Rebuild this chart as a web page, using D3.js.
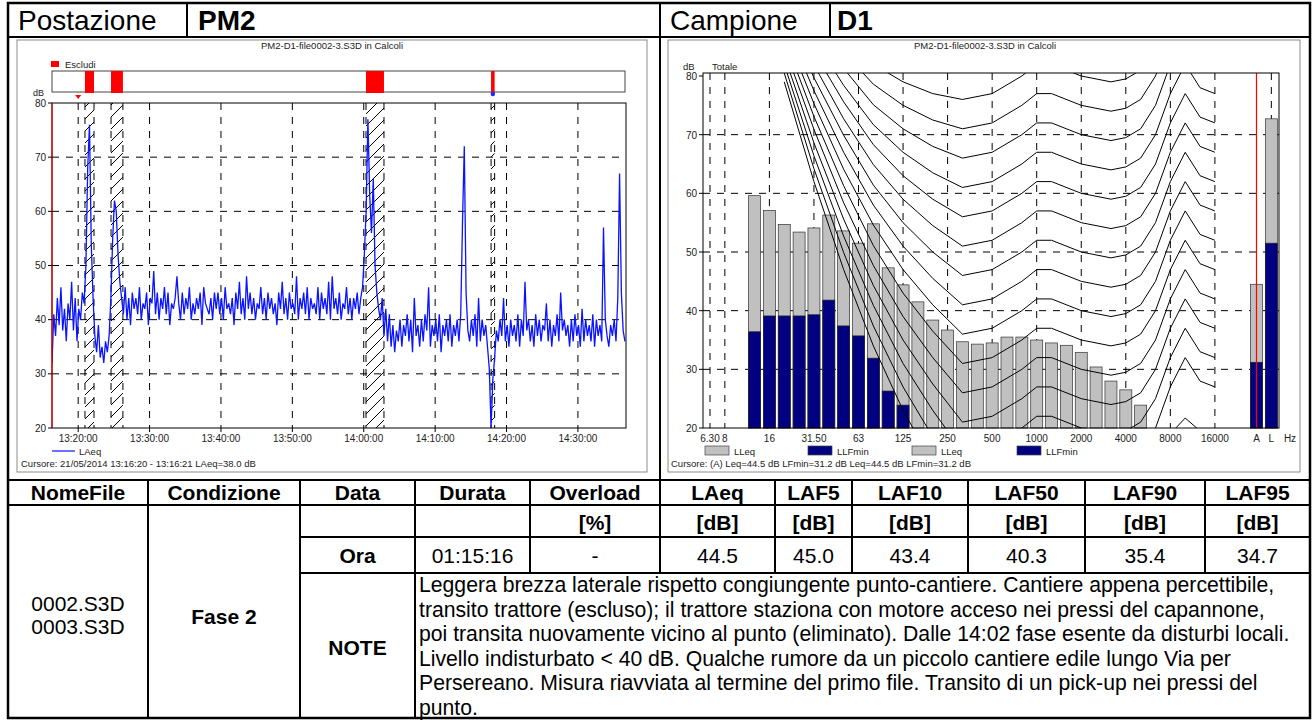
<!DOCTYPE html>
<html>
<head>
<meta charset="utf-8">
<script src="https://cdn.jsdelivr.net/npm/d3@7/dist/d3.min.js"></script>
<style>
  body { margin: 0; background: #fff; }
  text { font-family: "Liberation Sans", Arial, sans-serif; }
</style>
</head>
<body>
<div id="sheet"></div>
<script>
// ---- time history (LAeq, 15 s samples) ----
const timeStart = '13:16:20', timeEnd = '14:36:44', sampleSec = 15
const laeq = [
  32,41,37,44, 39,46,38,42, 36,43,40,47, 38,44,36,42, 40,45,43,50,
  68,76,54,44, 37,34,39,33, 35,32,36,34, 37,44,55,62, 60,52,47,44,
  41,46,40,44, 39,45,42,44, 41,46,40,43, 42,45,39,44, 43,49,41,45,
  40,44,42,46, 41,45,39,43, 42,44,48,43, 40,45,41,44, 42,46,40,43,
  41,44,42,45, 39,46,43,42, 41,44,40,45, 42,45,41,44, 40,46,42,43,
  41,44,39,45, 42,47,41,44, 40,48,42,45, 41,44,40,43, 42,46,41,44,
  40,45,42,44, 41,43,39,45, 42,47,41,44, 40,45,42,43, 41,48,40,44,
  42,45,41,46, 40,44,42,43, 41,46,40,45, 42,44,41,47, 40,48,42,44,
  41,45,40,43, 42,46,41,44, 40,44,42,45, 41,44,46,52, 60,77,63,56,
  66,50,45,42, 40,44,37,42, 36,41,35,39, 34,38,36,40, 35,39,37,41,
  36,40,34,44, 37,39,35,40, 36,41,38,46, 35,39,37,40, 36,41,34,39,
  37,40,36,41, 35,39,37,40, 36,41,58,72, 45,38,36,40, 37,41,35,44,
  36,40,37,39, 35,31,20,29, 33,38,36,40, 37,44,36,39, 35,40,37,39,
  36,41,35,40, 37,47,38,40, 36,39,35,41, 37,40,36,39, 38,43,36,40,
  35,39,37,41, 36,45,38,40, 37,39,35,40, 36,41,37,39, 35,42,36,40,
  37,39,36,41, 35,40,37,39, 36,57,40,37, 35,39,37,40, 36,44,67,45,
  38,36
]
const excluded = [['13:20:57', '13:22:13'], ['13:24:36', '13:26:16'], ['14:00:19', '14:02:50'], ['14:17:50', '14:18:20']]
const levelTicks = [20, 30, 40, 50, 60, 70, 80]

// ---- spectrum ----
const bands = ['6.3','8','10','12.5','16','20','25','31.5','40','50','63','80','100','125','160','200','250','315','400','500',
  '630','800','1000','1250','1600','2000','2500','3150','4000','5000','6300','8000','10000','12500','16000','20000']
const lleq = [null,null,null,59.6,57.1,54.7,53.4,54.1,56.3,53.6,51.5,54.8,47.3,44.4,41.5,38.4,36.7,34.7,34.3,34.5,
  35.5,35.5,35.0,34.5,34.1,32.9,30.4,28.0,26.5,23.9,null,null,null,null,null,null]
const llfmin = [null,null,null,36.4,39.1,39.1,39.1,39.3,41.8,37.4,35.7,31.9,26.3,23.9,null,null,null,null,null,null,
  null,null,null,null,null,null,null,null,null,null,null,null,null,null,null,null]
const totals = ['A', 'L']
const totalLleq = [44.5, 72.7]
const totalLlfmin = [31.2, 51.5]
const freqTicks = ['6.3','8','16','31.5','63','125','250','500','1000','2000','4000','8000','16000']
const freqTickText = ['6.30','8','16','31.50','63','125','250','500','1000','2000','4000','8000','16000']

// isophone curves
const contourFreqs = ['20','31.5','50','80','125','200','315','500','800','1000','1250','2000','3150','4000','5000','6300','8000','10000','12500','16000']
const contours = [
  [100,93,87,82,79,77,76,77,80,82,82,80,79,79.5,81,85,92,97,93,92],
  [98.5,90.8,84.1,78.6,75,72.5,71,72,75,77,77,75,74,74.5,76,80,87,92,88,87],
  [97,88.6,81.3,75.1,71,68,66,67,70,72,72,70,69,69.5,71,75,82,87,83,82],
  [95.5,86.4,78.4,71.7,67,63.5,61,62,65,67,67,65,64,64.5,66,70,77,82,78,77],
  [94,84.1,75.6,68.3,63,59,56,57,60,62,62,60,59,59.5,61,65,72,77,73,72],
  [92.5,81.9,72.7,64.9,59,54.5,51,52,55,57,57,55,54,54.5,56,60,67,72,68,67],
  [91,79.7,69.9,61.4,55,50,46,47,50,52,52,50,49,49.5,51,55,62,67,63,62],
  [89.5,77.5,67,58,51,45.5,41,42,45,47,47,45,44,44.5,46,50,57,62,58,57],
  [88,75.3,64.1,54.6,47,41,36,37,40,42,42,40,39,39.5,41,45,52,57,53,52],
  [86.5,73.1,61.3,51.1,43,36.5,31,32,35,37,37,35,34,34.5,36,40,47,52,48,47],
  [85,70.9,58.4,47.7,39,32,26,27,30,32,32,30,29,29.5,31,35,42,47,43,42],
  [83.5,68.6,55.6,44.3,35,27.5,21,22,25,27,27,25,24,24.5,26,30,37,42,38,37],
  [82,66.4,52.7,40.9,31,23,16,17,20,22,22,20,19,19.5,21,25,32,37,33,32],
  [80.5,64.2,49.9,37.4,27,18.5,11,12,15,17,17,15,14,14.5,16,20,27,32,28,27],
  [79,62,47,34,23,14,6,7,10,12,12,10,9,9.5,11,14,19,21.7,19.5,18]
]

// ---- sheet table ----
const headCells = ['Postazione', 'PM2', 'Campione', 'D1']
const colNames = ['NomeFile','Condizione','Data','Durata','Overload','LAeq','LAF5','LAF10','LAF50','LAF90','LAF95']
const colUnits = ['','','','','[%]','[dB]','[dB]','[dB]','[dB]','[dB]','[dB]']
const rowLabel = 'Ora'
const rowValues = ['01:15:16','-','44.5','45.0','43.4','40.3','35.4','34.7']
const fileNames = ['0002.S3D', '0003.S3D']
const condition = 'Fase 2'
const noteLines = [
  'Leggera brezza laterale rispetto congiungente punto-cantiere. Cantiere appena percettibile,',
  'transito trattore (escluso); il trattore staziona con motore acceso nei pressi del capannone,',
  'poi transita nuovamente vicino al punto (eliminato). Dalle 14:02 fase esente da disturbi locali.',
  'Livello indisturbato < 40 dB. Qualche rumore da un piccolo cantiere edile lungo Via per',
  'Persereano. Misura riavviata al termine del primo file. Transito di un pick-up nei pressi del',
  'punto.'
]

const svg = d3.select('#sheet').append('svg')
  .attr('width', 1315)
  .attr('height', 720)
svg.append('rect').attr('width', 1315).attr('height', 720).attr('fill', '#fff')
const defs = svg.append('defs')

function rule(g, x1, y1, x2, y2, w, color) {
  return g.append('line')
    .attr('x1', x1).attr('y1', y1).attr('x2', x2).attr('y2', y2)
    .attr('stroke', color || '#000')
    .attr('stroke-width', w || 2)
}
function label(g, x, y, txt, size, opts) {
  opts = opts || {}
  return g.append('text')
    .attr('x', x).attr('y', y)
    .attr('font-size', size)
    .attr('font-weight', opts.bold ? 'bold' : 'normal')
    .attr('text-anchor', opts.anchor || 'start')
    .attr('fill', opts.fill || '#000')
    .text(txt)
}

// ================= left chart: time history =================
const parseT = d3.timeParse('%H:%M:%S')
const t0 = parseT(timeStart)
const series = laeq.map((v, i) => ({t: d3.timeSecond.offset(t0, i * sampleSec), v}))
const lx = d3.scaleTime().domain([t0, parseT(timeEnd)]).range([52, 626])
const ly = d3.scaleLinear().domain([20, 80]).range([428, 103])

const left = svg.append('g').attr('id', 'left-chart')
left.append('rect').attr('x', 17).attr('y', 40).attr('width', 630).attr('height', 432)
  .attr('fill', '#fff').attr('stroke', '#8c8c8c')
label(left, 332, 49, 'PM2-D1-file0002-3.S3D in Calcoli', 9.5, {anchor: 'middle', fill: '#222'})

defs.append('clipPath').attr('id', 'lclip').append('rect')
  .attr('x', 52).attr('y', 103).attr('width', 574).attr('height', 325)
const hatch = defs.append('pattern').attr('id', 'hatch')
  .attr('patternUnits', 'userSpaceOnUse').attr('width', 12).attr('height', 12)
hatch.append('path').attr('d', 'M0,12 L12,0 M-3,3 L3,-3 M9,15 L15,9')
  .attr('stroke', '#000').attr('stroke-width', 1)

// exclusion strip
left.append('rect').attr('x', 51).attr('y', 61).attr('width', 8).attr('height', 6).attr('fill', '#f00')
label(left, 65, 68, 'Escludi', 9.5, {fill: '#222'})
left.append('rect').attr('x', 52).attr('y', 71).attr('width', 573).attr('height', 21)
  .attr('fill', '#fff').attr('stroke', '#444')
left.append('g').selectAll('rect')
  .data(excluded)
  .enter().append('rect')
  .attr('x', d => lx(parseT(d[0])))
  .attr('width', d => Math.max(3, lx(parseT(d[1])) - lx(parseT(d[0]))))
  .attr('y', 71).attr('height', 22)
  .attr('fill', '#f00')
left.append('path').attr('d', `M${lx(parseT('13:20:00')) - 3},95 h6 l-3,4 z`).attr('fill', '#f00')
left.append('circle').attr('cx', lx(parseT('14:18:05'))).attr('cy', 94).attr('r', 2.2).attr('fill', '#1030ff')

const tTicks = lx.ticks(d3.timeMinute.every(10))
const lgrid = left.append('g').attr('class', 'grid')
lgrid.selectAll('.vgrid')
  .data(tTicks)
  .enter().append('line')
  .attr('x1', d => lx(d)).attr('x2', d => lx(d))
  .attr('y1', 103).attr('y2', 428)
  .attr('stroke', '#000').attr('stroke-dasharray', '7,7')
lgrid.selectAll('.hgrid')
  .data(levelTicks.slice(1, -1))
  .enter().append('line')
  .attr('x1', 52).attr('x2', 626)
  .attr('y1', d => ly(d)).attr('y2', d => ly(d))
  .attr('stroke', '#000').attr('stroke-dasharray', '7,7')

const hatchG = left.append('g').attr('class', 'excluded')
hatchG.selectAll('rect')
  .data(excluded)
  .enter().append('rect')
  .attr('x', d => lx(parseT(d[0])))
  .attr('width', d => lx(parseT(d[1])) - lx(parseT(d[0])))
  .attr('y', 103).attr('height', 325)
  .attr('fill', 'url(#hatch)')
hatchG.selectAll('.edge')
  .data(excluded.flat())
  .enter().append('line')
  .attr('x1', d => lx(parseT(d))).attr('x2', d => lx(parseT(d)))
  .attr('y1', 103).attr('y2', 428)
  .attr('stroke', '#000').attr('stroke-dasharray', '7,7')

left.append('path')
  .datum(series)
  .attr('clip-path', 'url(#lclip)')
  .attr('fill', 'none')
  .attr('stroke', '#0a14ff')
  .attr('stroke-width', 1.3)
  .attr('d', d3.line().x(d => lx(d.t)).y(d => ly(d.v)))

left.append('rect').attr('x', 52).attr('y', 103).attr('width', 574).attr('height', 325)
  .attr('fill', 'none').attr('stroke', '#000')
rule(left, 52, 103, 52, 428, 1.2, '#e00')

const lyAxis = left.append('g').selectAll('g').data(levelTicks).enter().append('g')
lyAxis.append('line').attr('x1', 48).attr('x2', 52).attr('y1', d => ly(d)).attr('y2', d => ly(d)).attr('stroke', '#000')
lyAxis.append('text').attr('x', 46).attr('y', d => ly(d) + 3.5)
  .attr('text-anchor', 'end').attr('font-size', 10).attr('fill', '#222').text(d => d)
label(left, 33, 96, 'dB', 9, {fill: '#222'})

const fmt = d3.timeFormat('%H:%M:%S')
const lxAxis = left.append('g').selectAll('g').data(tTicks).enter().append('g')
lxAxis.append('line').attr('x1', d => lx(d)).attr('x2', d => lx(d)).attr('y1', 428).attr('y2', 432).attr('stroke', '#000')
lxAxis.append('text').attr('x', d => lx(d)).attr('y', 442)
  .attr('text-anchor', 'middle').attr('font-size', 10).attr('fill', '#222').text(d => fmt(d))

rule(left, 52, 451, 75, 451, 1.2, '#0a14ff')
label(left, 79, 455, 'LAeq', 9.5, {fill: '#222'})
label(left, 21, 467, 'Cursore: 21/05/2014 13:16:20 - 13:16:21  LAeq=38.0 dB', 9.5, {fill: '#222'})

// ================= right chart: spectrum =================
const fx = d3.scaleLinear().domain([-0.471, 38.316]).range([703, 1279])
const fy = d3.scaleLinear().domain([20, 80]).range([428, 76])
const totalIdx = [36.8, 37.8]
const barW = 12

const right = svg.append('g').attr('id', 'right-chart')
right.append('rect').attr('x', 668).attr('y', 40).attr('width', 632).attr('height', 432)
  .attr('fill', '#fff').attr('stroke', '#8c8c8c')
label(right, 985, 49, 'PM2-D1-file0002-3.S3D in Calcoli', 9.5, {anchor: 'middle', fill: '#222'})
label(right, 683, 70, 'dB', 9.5, {fill: '#222'})
label(right, 712, 70, 'Totale', 9.5, {fill: '#222'})

defs.append('clipPath').attr('id', 'rclip').append('rect')
  .attr('x', 703).attr('y', 73).attr('width', 576).attr('height', 355)

const rgrid = right.append('g').attr('class', 'grid')
rgrid.selectAll('.vgrid')
  .data(freqTicks.map(f => bands.indexOf(f)).concat([totalIdx[1]]))
  .enter().append('line')
  .attr('x1', d => fx(d)).attr('x2', d => fx(d))
  .attr('y1', 73).attr('y2', 428)
  .attr('stroke', '#000').attr('stroke-dasharray', '7,7')
rgrid.selectAll('.hgrid')
  .data(levelTicks.slice(1, -1))
  .enter().append('line')
  .attr('x1', 703).attr('x2', 1279)
  .attr('y1', d => fy(d)).attr('y2', d => fy(d))
  .attr('stroke', '#000').attr('stroke-dasharray', '7,7')

const bandRows = bands.map((b, i) => ({i, leq: lleq[i], min: llfmin[i]}))
  .concat(totals.map((t, k) => ({i: totalIdx[k], leq: totalLleq[k], min: totalLlfmin[k]})))
const bars = right.append('g').attr('class', 'bars')
bars.selectAll('.leq')
  .data(bandRows.filter(d => d.leq != null))
  .enter().append('rect')
  .attr('x', d => fx(d.i) - barW / 2).attr('width', barW)
  .attr('y', d => fy(d.leq)).attr('height', d => fy(20) - fy(d.leq))
  .attr('fill', '#c0c0c0').attr('stroke', '#333').attr('stroke-width', 0.7)
bars.selectAll('.min')
  .data(bandRows.filter(d => d.min != null))
  .enter().append('rect')
  .attr('x', d => fx(d.i) - barW / 2).attr('width', barW)
  .attr('y', d => fy(d.min)).attr('height', d => fy(20) - fy(d.min))
  .attr('fill', '#000080').attr('stroke', '#222').attr('stroke-width', 0.7)

const cline = d3.line()
  .x((d, k) => fx(bands.indexOf(contourFreqs[k])))
  .y(d => fy(d))
right.append('g').attr('clip-path', 'url(#rclip)')
  .selectAll('path')
  .data(contours)
  .enter().append('path')
  .attr('fill', 'none').attr('stroke', '#000').attr('stroke-width', 1)
  .attr('d', cline)

rule(right, fx(totalIdx[0]), 73, fx(totalIdx[0]), 428, 1.2, '#f00')
right.append('rect').attr('x', 703).attr('y', 73).attr('width', 576).attr('height', 355)
  .attr('fill', 'none').attr('stroke', '#000')

const ryAxis = right.append('g').selectAll('g').data(levelTicks).enter().append('g')
ryAxis.append('line').attr('x1', 699).attr('x2', 703).attr('y1', d => fy(d)).attr('y2', d => fy(d)).attr('stroke', '#000')
ryAxis.append('text').attr('x', 697).attr('y', d => fy(d) + 4)
  .attr('text-anchor', 'end').attr('font-size', 10).attr('fill', '#222').text(d => d)

right.append('g').selectAll('text')
  .data(freqTickText.map((t, k) => ({t, i: bands.indexOf(freqTicks[k])}))
    .concat(totals.map((t, k) => ({t, i: totalIdx[k]}))))
  .enter().append('text')
  .attr('x', d => fx(d.i)).attr('y', 442)
  .attr('text-anchor', 'middle').attr('font-size', 10).attr('fill', '#222')
  .text(d => d.t)
label(right, 1290, 442, 'Hz', 10, {anchor: 'middle', fill: '#222'})

const legendItems = [
  {x: 705, fill: '#c0c0c0', name: 'LLeq'},
  {x: 808, fill: '#000080', name: 'LLFmin'},
  {x: 912, fill: '#c0c0c0', name: 'LLeq'},
  {x: 1017, fill: '#000080', name: 'LLFmin'}
]
const lg = right.append('g').selectAll('g').data(legendItems).enter().append('g')
lg.append('rect').attr('x', d => d.x).attr('y', 446).attr('width', 24).attr('height', 9)
  .attr('fill', d => d.fill).attr('stroke', '#444').attr('stroke-width', 0.7)
lg.append('text').attr('x', d => d.x + 29).attr('y', 455).attr('font-size', 9.5).attr('fill', '#222').text(d => d.name)
label(right, 671, 467, 'Cursore: (A)  Leq=44.5 dB  LFmin=31.2 dB  Leq=44.5 dB  LFmin=31.2 dB', 9.5, {fill: '#222'})

// ================= table =================
const cols = [8, 148, 300, 415, 530, 660, 775, 852, 968, 1085, 1205, 1310]
const tbl = svg.append('g').attr('id', 'table')
tbl.append('rect').attr('x', 8).attr('y', 3).attr('width', 1302).attr('height', 715)
  .attr('fill', 'none').attr('stroke', '#000').attr('stroke-width', 2.5)
rule(tbl, 8, 37, 1310, 37)
rule(tbl, 8, 480, 1310, 480)
rule(tbl, 8, 505, 1310, 505)
rule(tbl, 300, 537, 1310, 537)
rule(tbl, 300, 573, 1310, 573)
rule(tbl, 187, 3, 187, 37)
rule(tbl, 660, 3, 660, 480)
rule(tbl, 830, 3, 830, 37)
cols.slice(1, 4).forEach(x => rule(tbl, x, 480, x, 718))
cols.slice(4, -1).forEach(x => rule(tbl, x, 480, x, 573))

label(tbl, 18, 30, headCells[0], 28)
label(tbl, 198, 30, headCells[1], 28, {bold: true})
label(tbl, 670, 30, headCells[2], 28)
label(tbl, 837, 30, headCells[3], 28, {bold: true})

const mid = k => (cols[k] + cols[k + 1]) / 2
colNames.forEach((n, k) => label(tbl, mid(k), 500, n, 21, {anchor: 'middle', bold: true}))
colUnits.forEach((n, k) => { if (n) label(tbl, mid(k), 530, n, 21, {anchor: 'middle', bold: true}) })
label(tbl, mid(2), 563, rowLabel, 21, {anchor: 'middle', bold: true})
rowValues.forEach((v, k) => label(tbl, mid(k + 3), 563, v, 21, {anchor: 'middle'}))
fileNames.forEach((f, k) => label(tbl, mid(0), 611 + k * 23, f, 21, {anchor: 'middle'}))
label(tbl, mid(1), 624, condition, 21, {anchor: 'middle', bold: true})
label(tbl, mid(2), 655, 'NOTE', 21, {anchor: 'middle', bold: true})
noteLines.forEach((t, k) => label(tbl, 419, 592 + k * 24.6, t, 21.2))
</script>
</body>
</html>
